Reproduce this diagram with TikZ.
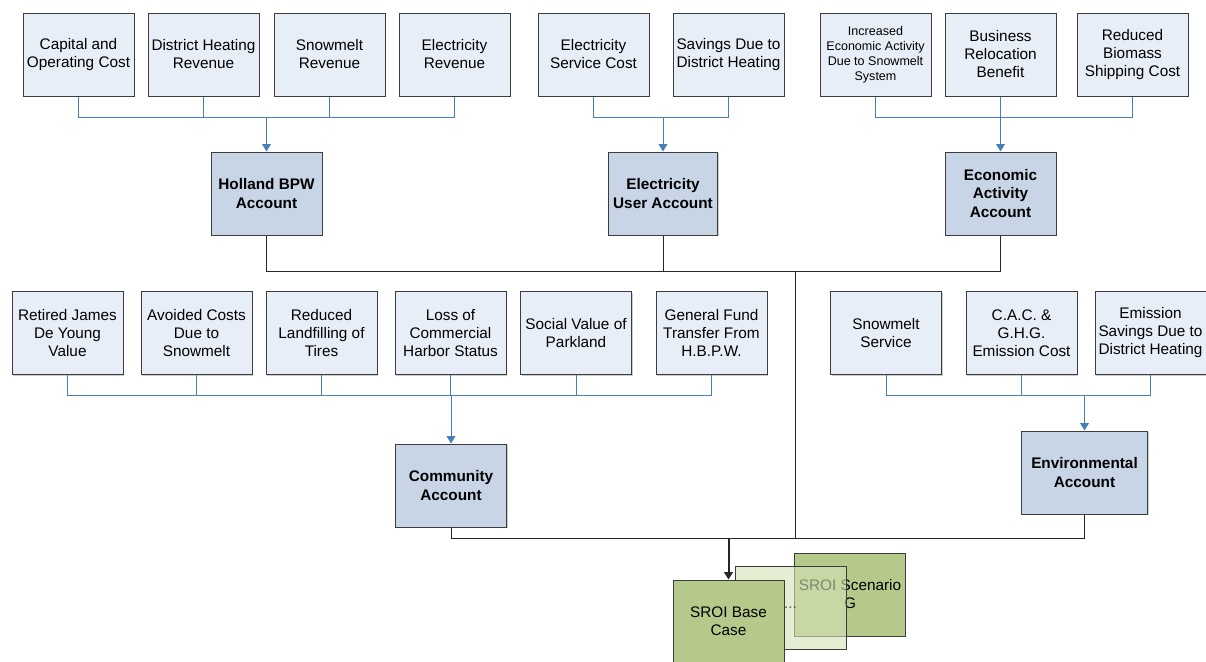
\documentclass[tikz,border=0pt]{standalone}
\usepackage{fontspec}
\setmainfont{Liberation Sans}
\usepackage{tikz}
\usetikzlibrary{arrows.meta}
\usetikzlibrary{positioning}
\usetikzlibrary{shadows}
\definecolor{leafblue}{HTML}{E8EEF8}
\definecolor{acctblue}{HTML}{C8D5E6}
\definecolor{edgegray}{HTML}{3C3C3C}
\definecolor{feedblue}{HTML}{4A7EBB}
\definecolor{sroigreen}{HTML}{B5CA8A}
\definecolor{scenlight}{HTML}{D4E2B6}

\tikzset{
  box/.style={draw=edgegray, line width=0.75pt, inner sep=0pt, align=center,
    minimum width=83.25pt, minimum height=62.25pt,
    drop shadow={shadow xshift=0.8pt, shadow yshift=-0.8pt, fill=black!40}},
  leaf/.style={box, fill=leafblue, font=\fontsize{11.5}{13.5}\selectfont},
  leafsmall/.style={leaf, font=\fontsize{9.4}{11.3}\selectfont},
  acct/.style={box, fill=acctblue, font=\bfseries\fontsize{11.5}{14.2}\selectfont},
  sroi/.style={draw=edgegray, line width=0.75pt, inner sep=0pt, align=center,
    minimum width=83.25pt, minimum height=62.25pt, fill=sroigreen,
    font=\fontsize{11.5}{13.5}\selectfont},
  feed/.style={color=feedblue, line width=0.75pt},
  feedarrow/.style={feed, -{Triangle[width=6.5pt,length=5.5pt]}},
  link/.style={color=black!85, line width=0.75pt},
}

\begin{document}
\begin{tikzpicture}[x=0.75pt, y=-0.75pt]
    \useasboundingbox (0,0) rectangle (1206,661);

    % top row
    \node[leaf] (cap) at (78.5,54.5) {Capital and\\Operating Cost};
    \node[leaf] (dhr) at (203.5,54.5) {District Heating\\Revenue};
    \node[leaf] (snr) at (329.5,54.5) {Snowmelt\\Revenue};
    \node[leaf] (elr) at (454.5,54.5) {Electricity\\Revenue};
    \node[leaf] (esc) at (593.5,54.5) {Electricity\\Service Cost};
    \node[leaf] (sav) at (728.5,54.5) {Savings Due to\\District Heating};
    \node[leafsmall] (inc) at (875.5,54.5) {Increased\\Economic Activity\\Due to Snowmelt\\System};
    \node[leaf] (brb) at (1000.5,54.5) {Business\\Relocation\\Benefit};
    \node[leaf] (bio) at (1132.5,54.5) {Reduced\\Biomass\\Shipping Cost};

    % accounts
    \node[acct] (hol) at (266.5,193.5) {Holland BPW\\Account};
    \node[acct, minimum width=81.75pt] (elu) at (663,193.5) {Electricity\\User Account};
    \node[acct] (eco) at (1000.5,193.5) {Economic\\Activity\\Account};

    % middle row
    \node[leaf] (ret) at (67.5,333) {Retired James\\De Young\\Value};
    \node[leaf] (avo) at (196.5,333) {Avoided Costs\\Due to\\Snowmelt};
    \node[leaf] (lan) at (321.5,333) {Reduced\\Landfilling of\\Tires};
    \node[leaf] (har) at (450.5,333) {Loss of\\Commercial\\Harbor Status};
    \node[leaf] (par) at (576,333) {Social Value of\\Parkland};
    \node[leaf] (gen) at (711.5,333) {General Fund\\Transfer From\\H.B.P.W.};
    \node[leaf] (sno) at (886,333) {Snowmelt\\Service};
    \node[leaf] (cac) at (1021.5,333) {C.A.C. \&\\G.H.G.\\Emission Cost};
    \node[leaf] (ems) at (1150.5,333) {Emission\\Savings Due to\\District Heating};

    \node[acct] (com) at (451,485.5) {Community\\Account};
    \node[acct, minimum width=94.5pt] (env) at (1084.5,472.5) {Environmental\\Account};

    % SROI stack
    \node[sroi] (scen) at (850,594.5) {SROI Scenario\\G};
    \node[sroi, fill=scenlight, fill opacity=0.6] (more) at (790.5,607.5) {...};
    \node[sroi] (base) at (728.5,621.5) {SROI Base\\Case};

    % feeders
    \coordinate (jhol) at (266.5,117);
    \coordinate (jelu) at (663,117);
    \coordinate (jeco) at (1000.5,117);
    \coordinate (jcom) at (451,395);
    \coordinate (jenv) at (1084.5,395);
    \foreach \n in {cap,dhr,snr,elr} \draw[feed] (\n.south) |- (jhol);
    \foreach \n in {esc,sav} \draw[feed] (\n.south) |- (jelu);
    \foreach \n in {inc,brb,bio} \draw[feed] (\n.south) |- (jeco);
    \foreach \n in {ret,avo,lan,har,par,gen} \draw[feed] (\n.south) |- (jcom);
    \foreach \n in {sno,cac,ems} \draw[feed] (\n.south) |- (jenv);
    \draw[feedarrow] (jhol) -- (hol.north);
    \draw[feedarrow] (jelu) -- (elu.north);
    \draw[feedarrow] (jeco) -- (eco.north);
    \draw[feedarrow] (jcom) -- (com.north);
    \draw[feedarrow] (jenv) -- (env.north);

    % accounts to SROI
    \coordinate (bus) at (795,271);
    \coordinate (mid) at (795,538);
    \coordinate (drop) at (728.5,538);
    \draw[link] (hol.south) |- (bus);
    \draw[link] (elu.south) |- (bus);
    \draw[link] (eco.south) |- (bus);
    \draw[link] (bus) -- (mid) -- (drop);
    \draw[link] (env.south) |- (mid);
    \draw[link] (com.south) |- (drop);
    \draw[link, line width=1.5pt, -{Triangle[width=6.5pt,length=5.5pt]}] (drop) -- (base.north);
  \end{tikzpicture}
\end{document}
